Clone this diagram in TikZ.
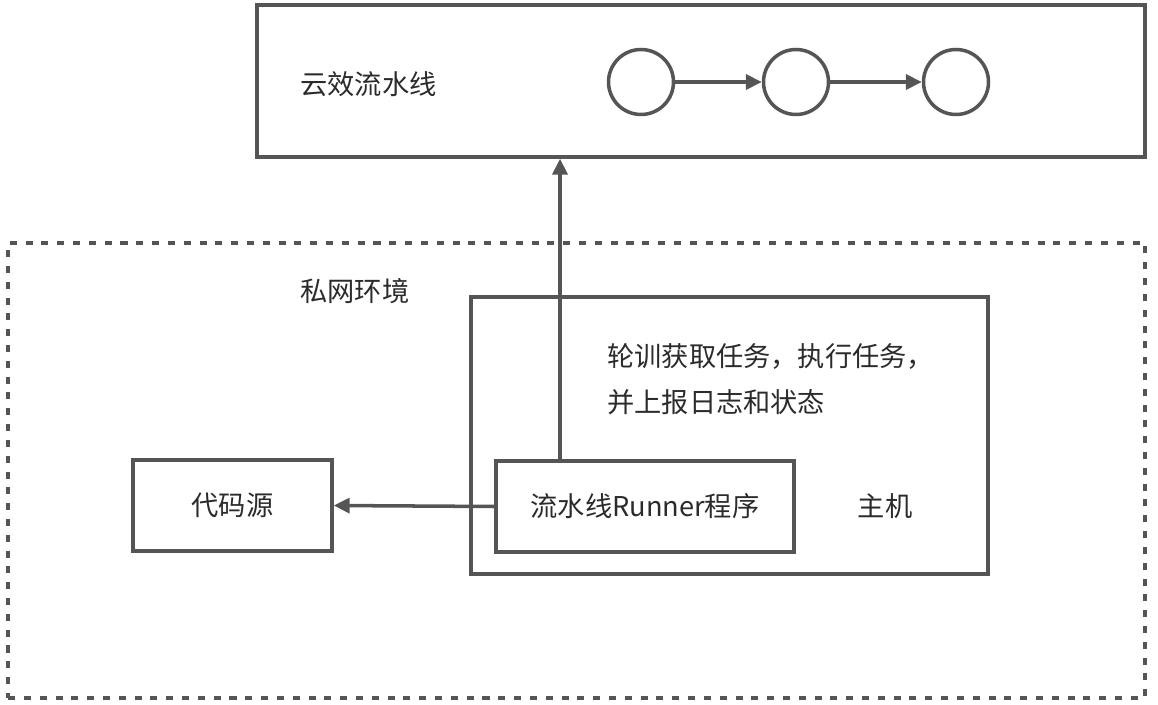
\documentclass[tikz,border=0pt]{standalone}
\usepackage{fontspec}
\setmainfont{Noto Sans CJK SC}
\usetikzlibrary{arrows.meta}

\definecolor{linegray}{HTML}{555555}
\definecolor{textgray}{HTML}{2b2b2b}

\tikzset{
  box/.style={draw=linegray, line width=2pt, inner sep=0pt},
  ring/.style={draw=linegray, line width=2pt, circle, minimum size=1.3cm, inner sep=0pt},
  label/.style={text=textgray, inner sep=0pt, font=\fontsize{15.5}{26}\selectfont},
  arr/.style={draw=linegray, line width=2pt, -{Triangle[length=9pt,width=8.5pt]}}
}

\begin{document}
\begin{tikzpicture}[x=0.02cm, y=-0.02cm]

\useasboundingbox (0,0) rectangle (1158,705);

% Pipeline
\node[box, minimum width=17.76cm, minimum height=3.04cm] (cloud) at (701,81) {};
\node[label, anchor=west] (cloudtext) at (300,84) {云效流水线};

\node[ring] (s1) at (641,82) {};
\node[ring] (s2) at (796,82) {};
\node[ring] (s3) at (956,82) {};

\draw[arr] (s1) -- (s2);
\draw[arr] (s2) -- (s3);

% Private network
\node[box, dash pattern=on 4pt off 5pt, minimum width=22.74cm, minimum height=9.1cm] (lan) at (576.5,470.5) {};
\node[label, anchor=west] (lantext) at (300,291) {私网环境};

% Host
\node[box, minimum width=10.34cm, minimum height=5.54cm] (host) at (729.5,435.5) {};
\node[label, anchor=west, align=left] (tasktext) at (607,379)
{轮训获取任务，执行任务，\\并上报日志和状态};
\node[label] (hosttext) at (885,506) {主机};

\node[box, label, minimum width=5.96cm, minimum height=1.82cm] (runner) at (645,506.5)
{流水线Runner程序};

% Code source
\node[box, label, minimum width=3.98cm, minimum height=1.82cm] (code) at (232.5,505.5)
{代码源};

% Arrows
\draw[arr] (runner.west) -- (code.east);
\draw[arr] ([xshift=-1.7cm]runner.north) -- ([xshift=-1.7cm]runner.north |- cloud.south);

\end{tikzpicture}
\end{document}
